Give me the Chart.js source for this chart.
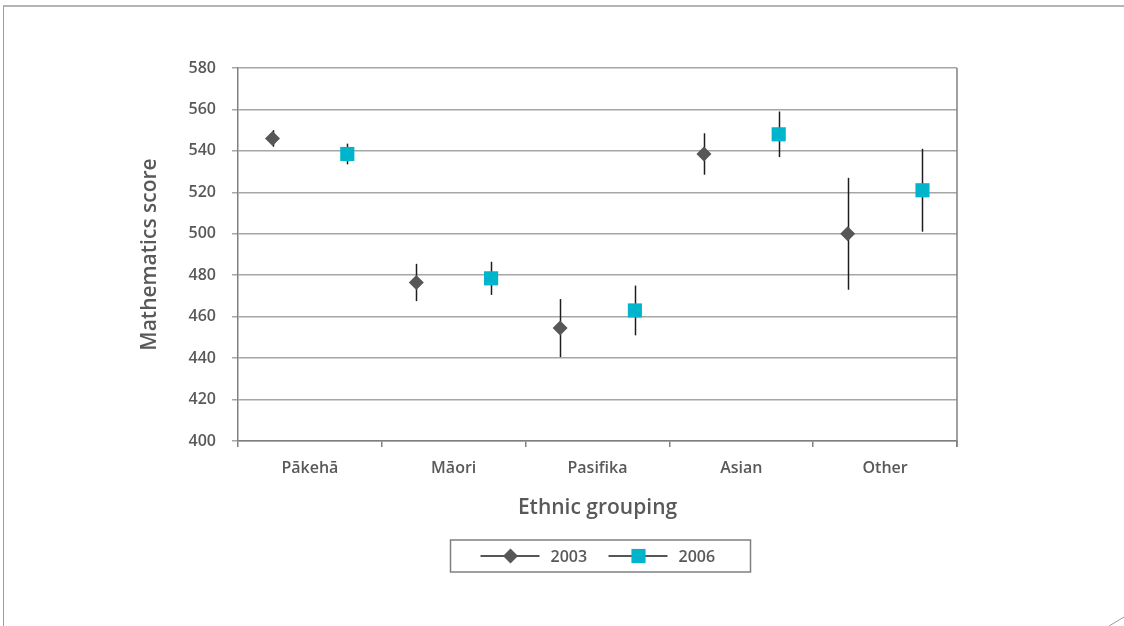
<!DOCTYPE html>
<html>
<head>
<meta charset="utf-8">
<title>Mathematics score by ethnic grouping, 2003 and 2006</title>
<script src="https://cdn.jsdelivr.net/npm/chart.js@4"></script>
<style>
  html, body { margin: 0; padding: 0; background: #ffffff; }
  #wrap { position: relative; width: 1124px; height: 626px; overflow: hidden; }
  #frame {
    position: absolute; left: 3px; top: 5px; width: 1124px; height: 626px;
    border-top: 2px solid #b4b4b4; border-left: 1px solid #9c9c9c;
    box-sizing: border-box; pointer-events: none;
  }
  canvas { position: absolute; left: 0; top: 0; }
</style>
</head>
<body>
<div id="wrap">
  <canvas id="chart" width="1124" height="626"></canvas>
  <div id="frame"></div>
</div>
<script>
// Ethnic groupings on the x axis
const CATEGORIES = ['Pākehā', 'Māori', 'Pasifika', 'Asian', 'Other'];

// Mean mathematics scores and the half-width of each confidence interval
const SCORE_2003 = [546, 476.5, 454.5, 538.5, 500];
const CI_2003    = [4, 9, 14, 10, 27];
const SCORE_2006 = [538.5, 478.5, 463, 548, 521];
const CI_2006    = [5, 8, 12, 11, 20];

const SERIES_LABELS = ['2003', '2006'];

// Y axis range and tick step
const Y_MIN = 400;
const Y_MAX = 580;
const Y_STEP = 20;

const TEXT = '#595959';
const FONT = "'Open Sans', 'DejaVu Sans', sans-serif";
const GRID = '#a6a6a6';
const AXIS = '#808080';
const WHISKER = '#1e1e1e';

// horizontal shift of each year's marker inside its category slot
const SHIFT = 0.26;

function points(values, shift) {
  return values.map((v, i) => ({ x: i + shift, y: v }));
}

// Vertical interval lines, drawn under the markers
const intervalPlugin = {
  id: 'intervals',
  beforeDatasetsDraw(chart) {
    const { ctx } = chart;
    const y = chart.scales.y;
    ctx.save();
    ctx.strokeStyle = WHISKER;
    ctx.lineWidth = 1.5;
    chart.data.datasets.forEach((ds, di) => {
      const meta = chart.getDatasetMeta(di);
      ds.data.forEach((p, i) => {
        const el = meta.data[i];
        const half = ds.ci[i];
        const x = Math.round(el.x) + 0.5;
        ctx.beginPath();
        ctx.moveTo(x, y.getPixelForValue(p.y + half));
        ctx.lineTo(x, y.getPixelForValue(p.y - half));
        ctx.stroke();
      });
    });
    ctx.restore();
  }
};

// Right-hand edge of the plot frame, boxed legend and corner mark
const framePlugin = {
  id: 'frameAndLegend',
  afterDraw(chart) {
    const { ctx, chartArea: a } = chart;
    ctx.save();
    ctx.strokeStyle = AXIS;
    ctx.lineWidth = 1.5;
    ctx.beginPath();
    ctx.moveTo(a.right, a.top);
    ctx.lineTo(a.right, a.bottom + 6);
    ctx.stroke();

    // legend box
    const boxW = 300, boxH = 32;
    const cx = (a.left + a.right) / 2 + 2;
    const bx = Math.round(cx - boxW / 2) + 0.5;
    const by = 540;
    ctx.strokeStyle = AXIS;
    ctx.lineWidth = 1.5;
    ctx.strokeRect(bx, by, boxW, boxH);

    const midY = by + boxH / 2;
    const itemX = [bx + 30, bx + 158];
    chart.data.datasets.forEach((ds, i) => {
      const x0 = itemX[i];
      ctx.strokeStyle = WHISKER;
      ctx.lineWidth = 1.5;
      ctx.beginPath();
      ctx.moveTo(x0, midY);
      ctx.lineTo(x0 + 59, midY);
      ctx.stroke();
      const mx = x0 + 30;
      ctx.fillStyle = ds.pointBackgroundColor;
      ctx.beginPath();
      if (ds.pointStyle === 'rectRot') {
        const r = ds.pointRadius;
        ctx.moveTo(mx - r, midY);
        ctx.lineTo(mx, midY - r);
        ctx.lineTo(mx + r, midY);
        ctx.lineTo(mx, midY + r);
        ctx.closePath();
      } else {
        const s = ds.pointRadius * Math.SQRT1_2;
        ctx.rect(mx - s, midY - s, 2 * s, 2 * s);
      }
      ctx.fill();
      ctx.fillStyle = TEXT;
      ctx.font = "600 16px " + FONT;
      ctx.textBaseline = 'middle';
      ctx.textAlign = 'left';
      ctx.fillText(ds.label, x0 + 70, midY + 1);
    });

    // folded corner mark
    ctx.strokeStyle = '#9c9c9c';
    ctx.lineWidth = 1;
    ctx.beginPath();
    ctx.moveTo(1109, 626);
    ctx.lineTo(1124, 617);
    ctx.stroke();
    ctx.restore();
  }
};

new Chart(document.getElementById('chart'), {
  type: 'scatter',
  data: {
    datasets: [
      {
        label: SERIES_LABELS[0],
        data: points(SCORE_2003, -SHIFT),
        ci: CI_2003,
        xAxisID: 'xp',
        pointStyle: 'rectRot',
        pointRadius: 7.5,
        pointBackgroundColor: '#575759',
        pointBorderWidth: 0,
        showLine: false
      },
      {
        label: SERIES_LABELS[1],
        data: points(SCORE_2006, SHIFT),
        ci: CI_2006,
        xAxisID: 'xp',
        pointStyle: 'rect',
        pointRadius: 10,
        pointBackgroundColor: '#00b4cc',
        pointBorderWidth: 0,
        showLine: false
      }
    ]
  },
  options: {
    responsive: false,
    animation: false,
    devicePixelRatio: 1,
    layout: { padding: { left: 0, top: 68, right: 167, bottom: 0 } },
    plugins: {
      legend: { display: false },
      tooltip: { enabled: false },
      title: { display: false }
    },
    scales: {
      x: {
        type: 'category',
        labels: CATEGORIES,
        offset: true,
        grid: {
          offset: true,
          drawOnChartArea: false,
          drawTicks: true,
          tickLength: 6,
          color: AXIS,
          lineWidth: 1.5
        },
        border: { display: true, color: AXIS, width: 1.5 },
        ticks: {
          color: TEXT,
          font: { family: FONT, size: 16, weight: '600' },
          padding: 12,
          maxRotation: 0
        },
        title: {
          display: true,
          text: 'Ethnic grouping',
          color: TEXT,
          font: { family: FONT, size: 21, weight: '600' },
          padding: { top: 0, bottom: 105 }
        },
        afterFit(scale) { scale.height = 185; }
      },
      xp: {
        type: 'linear',
        display: false,
        min: -0.5,
        max: CATEGORIES.length - 0.5
      },
      y: {
        type: 'linear',
        min: Y_MIN,
        max: Y_MAX,
        grid: {
          color: GRID,
          lineWidth: 1.5,
          tickLength: 6,
          drawTicks: true
        },
        border: { display: true, color: AXIS, width: 1.5 },
        ticks: {
          stepSize: Y_STEP,
          color: TEXT,
          font: { family: FONT, size: 16, weight: '600' },
          padding: 16
        },
        title: {
          display: true,
          text: 'Mathematics score',
          color: TEXT,
          font: { family: FONT, size: 21, weight: '600' },
          padding: { top: 137, bottom: 0 }
        },
        afterFit(scale) { scale.width = 238; }
      }
    }
  },
  plugins: [intervalPlugin, framePlugin]
});
</script>
</body>
</html>
